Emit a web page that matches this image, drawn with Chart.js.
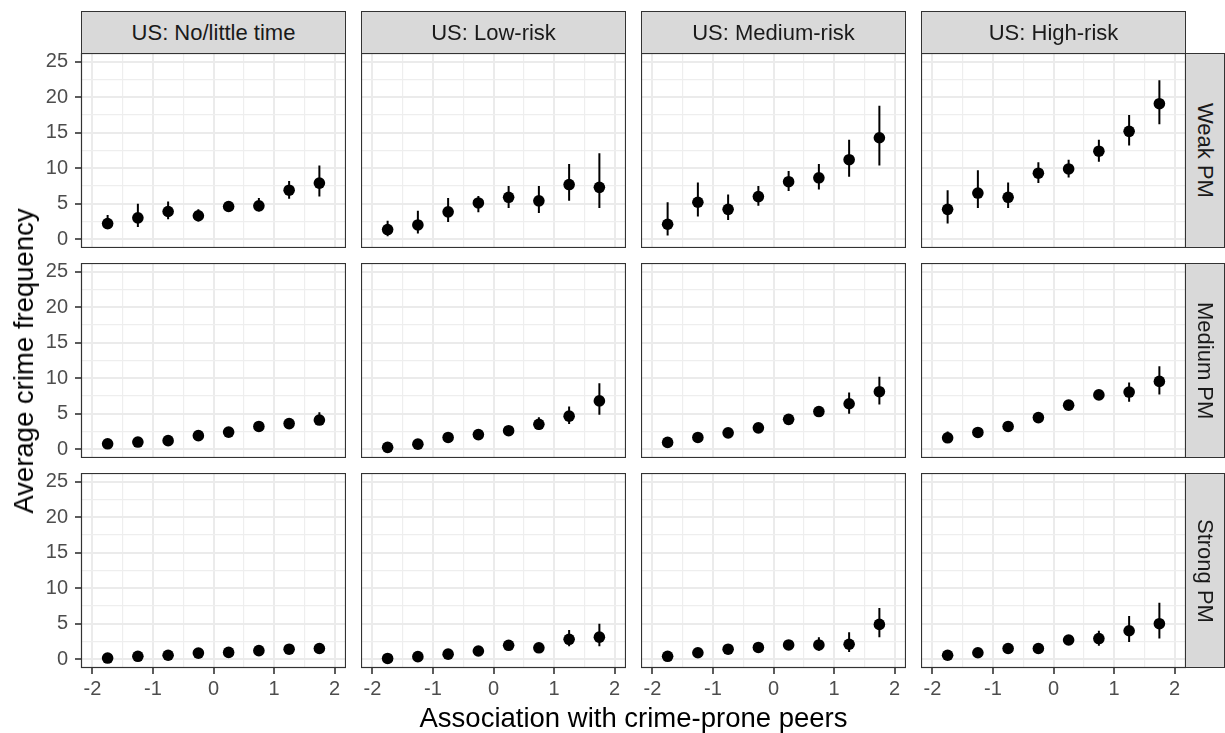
<!DOCTYPE html>
<html>
<head>
<meta charset="utf-8">
<script src="https://cdn.jsdelivr.net/npm/chart.js@4.4.1/dist/chart.umd.min.js"></script>
<style>
body { margin: 0; background: #fff; width: 1225px; height: 733px; position: relative; overflow: hidden; font-family: "Liberation Sans", Arial, sans-serif; }
.panel { position: absolute; }
.strip { position: absolute; background: #d9d9d9; border: 1px solid #333; box-sizing: border-box; color: #1a1a1a; font-size: 22px; display: flex; align-items: center; justify-content: center; }
.rstrip { writing-mode: vertical-rl; }
.title { position: absolute; color: #000; font-size: 27.5px; line-height: 30px; white-space: nowrap; }
</style>
</head>
<body>
<div id="root"></div>
<div class="title" id="xtitle">Association with crime-prone peers</div>
<div class="title" id="ytitle">Average crime frequency</div>
<script>
// facets
const columns = ["US: No/little time", "US: Low-risk", "US: Medium-risk", "US: High-risk"];
const rows = ["Weak PM", "Medium PM", "Strong PM"];

// x positions of the peer-association bins
const xPos = [-1.75, -1.25, -0.75, -0.25, 0.25, 0.75, 1.25, 1.75];
const xTicks = [-2, -1.5, -1, -0.5, 0, 0.5, 1, 1.5, 2];
const yTicks = [0, 2.5, 5, 7.5, 10, 12.5, 15, 17.5, 20, 22.5, 25];

// Weak PM row, one array per column
const weakMean = [
  [2.2, 3.0, 3.9, 3.3, 4.6, 4.7, 6.9, 7.9],
  [1.35, 2.0, 3.85, 5.1, 5.9, 5.4, 7.7, 7.3],
  [2.1, 5.2, 4.2, 6.0, 8.1, 8.65, 11.2, 14.3],
  [4.2, 6.5, 5.9, 9.3, 9.9, 12.4, 15.2, 19.1]
];
const weakLo = [
  [1.4, 1.7, 2.8, 2.5, 4.0, 3.9, 5.7, 6.0],
  [0.4, 0.8, 2.4, 3.8, 4.4, 3.7, 5.4, 4.4],
  [0.5, 3.2, 2.7, 4.7, 6.8, 7.0, 8.8, 10.4],
  [2.2, 4.4, 4.4, 7.9, 8.7, 10.9, 13.2, 16.2]
];
const weakHi = [
  [3.4, 5.0, 5.3, 4.2, 5.3, 5.8, 8.2, 10.4],
  [2.6, 4.0, 5.8, 6.1, 7.5, 7.5, 10.6, 12.1],
  [5.2, 8.0, 6.3, 7.5, 9.6, 10.6, 14.0, 18.8],
  [6.9, 9.7, 8.0, 10.85, 11.2, 14.0, 17.5, 22.4]
];

// Medium PM row
const mediumMean = [
  [0.75, 1.0, 1.2, 1.9, 2.4, 3.2, 3.6, 4.1],
  [0.25, 0.7, 1.65, 2.05, 2.6, 3.5, 4.65, 6.8],
  [0.95, 1.65, 2.3, 3.0, 4.2, 5.3, 6.4, 8.1],
  [1.6, 2.35, 3.2, 4.45, 6.2, 7.65, 8.05, 9.55]
];
const mediumLo = [
  [0.4, 0.6, 0.8, 1.4, 1.9, 2.7, 3.0, 3.4],
  [0.0, 0.3, 1.1, 1.5, 2.0, 2.7, 3.55, 4.85],
  [0.6, 1.2, 1.8, 2.4, 3.6, 4.6, 5.0, 6.3],
  [1.0, 1.8, 2.6, 3.8, 5.6, 7.0, 6.7, 7.7]
];
const mediumHi = [
  [1.1, 1.4, 1.7, 2.4, 2.9, 3.7, 4.2, 5.2],
  [0.6, 1.1, 2.2, 2.6, 3.2, 4.5, 6.0, 9.3],
  [1.3, 2.1, 2.8, 3.6, 4.8, 6.0, 8.0, 10.2],
  [2.5, 2.9, 3.8, 5.1, 6.8, 8.3, 9.4, 11.7]
];

// Strong PM row
const strongMean = [
  [0.15, 0.4, 0.55, 0.85, 0.95, 1.2, 1.4, 1.5],
  [0.1, 0.35, 0.7, 1.15, 1.95, 1.6, 2.8, 3.1],
  [0.4, 0.9, 1.4, 1.65, 2.0, 2.0, 2.1, 4.9],
  [0.55, 0.9, 1.5, 1.5, 2.7, 2.9, 4.0, 5.0]
];
const strongLo = [
  [0.0, 0.1, 0.2, 0.4, 0.5, 0.7, 0.8, 0.85],
  [0.0, 0.05, 0.3, 0.6, 1.4, 1.0, 1.8, 1.8],
  [0.1, 0.5, 0.9, 1.1, 1.4, 1.2, 1.0, 3.1],
  [0.2, 0.5, 1.0, 1.0, 2.1, 1.9, 2.4, 2.9]
];
const strongHi = [
  [0.4, 0.7, 0.9, 1.3, 1.4, 1.7, 2.0, 2.2],
  [0.3, 0.7, 1.2, 1.7, 2.5, 2.3, 4.1, 5.0],
  [0.8, 1.3, 1.9, 2.2, 2.6, 3.1, 3.8, 7.2],
  [0.9, 1.3, 2.0, 2.0, 3.3, 4.0, 6.1, 7.95]
];

const means = [weakMean, mediumMean, strongMean];
const lows = [weakLo, mediumLo, strongLo];
const highs = [weakHi, mediumHi, strongHi];

// layout (px)
const PX = 81, PY = 53, PW = 265, PH = 195, GAPX = 15, GAPY = 15;
const AXW = 60, AXH = 48, STRIP_H = 42, STRIP_W = 40;

Chart.defaults.font.family = '"Liberation Sans", Arial, sans-serif';

const panelBorder = {
  id: 'panelBorder',
  afterDraw(chart) {
    const a = chart.chartArea, ctx = chart.ctx;
    ctx.save();
    ctx.strokeStyle = '#333';
    ctx.lineWidth = 1.2;
    ctx.strokeRect(a.left + 0.5, a.top + 0.5, a.right - a.left - 1, a.bottom - a.top - 1);
    ctx.restore();
  }
};

const root = document.getElementById('root');

function gridColor(major) { return major ? '#ebebeb' : '#eeeeee'; }

for (let r = 0; r < rows.length; r++) {
  for (let c = 0; c < columns.length; c++) {
    const left = c === 0, bottom = r === rows.length - 1;
    const x0 = PX + c * (PW + GAPX) - (left ? AXW : 0);
    const y0 = PY + r * (PH + GAPY);
    const w = PW + (left ? AXW : 0), h = PH + (bottom ? AXH : 0);

    const div = document.createElement('div');
    div.className = 'panel';
    div.style.left = x0 + 'px';
    div.style.top = y0 + 'px';
    const cv = document.createElement('canvas');
    cv.width = w; cv.height = h;
    cv.style.width = w + 'px'; cv.style.height = h + 'px';
    div.appendChild(cv);
    root.appendChild(div);

    const m = means[r][c], lo = lows[r][c], hi = highs[r][c];
    const bars = [];
    xPos.forEach((x, i) => { bars.push({x, y: lo[i]}, {x, y: hi[i]}, {x, y: null}); });

    new Chart(cv, {
      type: 'scatter',
      data: {
        datasets: [
          { data: xPos.map((x, i) => ({x, y: m[i]})), pointRadius: 5.8, pointHoverRadius: 5.8,
            backgroundColor: '#000', borderWidth: 0 },
          { type: 'line', data: bars, showLine: true, spanGaps: false, borderColor: '#000',
            borderWidth: 2, pointRadius: 0, fill: false }
        ]
      },
      options: {
        responsive: false, animation: false, events: [],
        layout: { padding: 0, autoPadding: false },
        plugins: { legend: { display: false }, tooltip: { enabled: false } },
        scales: {
          x: {
            type: 'linear', min: -2.19, max: 2.19,
            afterBuildTicks: s => { s.ticks = xTicks.map(v => ({value: v})); },
            afterFit: s => { s.height = bottom ? AXH : 0; s.paddingLeft = 0; s.paddingRight = 0; },
            ticks: { display: bottom, autoSkip: false, maxRotation: 0, padding: 3, color: '#4d4d4d',
              font: { size: 20 }, callback: v => Number.isInteger(v) ? String(v) : '' },
            grid: {
              color: ctx => gridColor(Number.isInteger(ctx.tick.value)),
              lineWidth: ctx => Number.isInteger(ctx.tick.value) ? 2 : 1.2,
              drawTicks: bottom, tickLength: 6, tickWidth: 1.6,
              tickColor: ctx => Number.isInteger(ctx.tick.value) ? '#333' : 'rgba(0,0,0,0)'
            },
            border: { display: false }
          },
          y: {
            type: 'linear', min: -1.25, max: 26.25,
            afterBuildTicks: s => { s.ticks = yTicks.map(v => ({value: v})); },
            afterFit: s => { s.width = left ? AXW : 0; s.paddingTop = 0; s.paddingBottom = 0; },
            ticks: { display: left, autoSkip: false, padding: 7, color: '#4d4d4d',
              font: { size: 20 }, callback: v => v % 5 === 0 ? String(v) : '' },
            grid: {
              color: ctx => gridColor(ctx.tick.value % 5 === 0),
              lineWidth: ctx => ctx.tick.value % 5 === 0 ? 2 : 1.2,
              drawTicks: left, tickLength: 6, tickWidth: 1.6,
              tickColor: ctx => ctx.tick.value % 5 === 0 ? '#333' : 'rgba(0,0,0,0)'
            },
            border: { display: false }
          }
        }
      },
      plugins: [panelBorder]
    });
  }
}

// column strips
columns.forEach((lab, c) => {
  const s = document.createElement('div');
  s.className = 'strip';
  s.style.left = (PX + c * (PW + GAPX)) + 'px';
  s.style.top = (PY - STRIP_H) + 'px';
  s.style.width = PW + 'px';
  s.style.height = (STRIP_H + 1) + 'px';
  s.textContent = lab;
  root.appendChild(s);
});

// row strips
rows.forEach((lab, r) => {
  const s = document.createElement('div');
  s.className = 'strip rstrip';
  s.style.left = (PX + 4 * PW + 3 * GAPX - 1) + 'px';
  s.style.top = (PY + r * (PH + GAPY)) + 'px';
  s.style.width = STRIP_W + 'px';
  s.style.height = PH + 'px';
  s.textContent = lab;
  root.appendChild(s);
});

// axis titles
const xt = document.getElementById('xtitle');
const panelsMid = PX + (4 * PW + 3 * GAPX) / 2;
xt.style.left = panelsMid + 'px';
xt.style.top = '703px';
xt.style.transform = 'translateX(-50%)';

const yt = document.getElementById('ytitle');
yt.style.left = '24px';
yt.style.top = (PY + (3 * PH + 2 * GAPY) / 2) + 'px';
yt.style.transform = 'translate(-50%, -50%) rotate(-90deg)';
</script>
</body>
</html>
